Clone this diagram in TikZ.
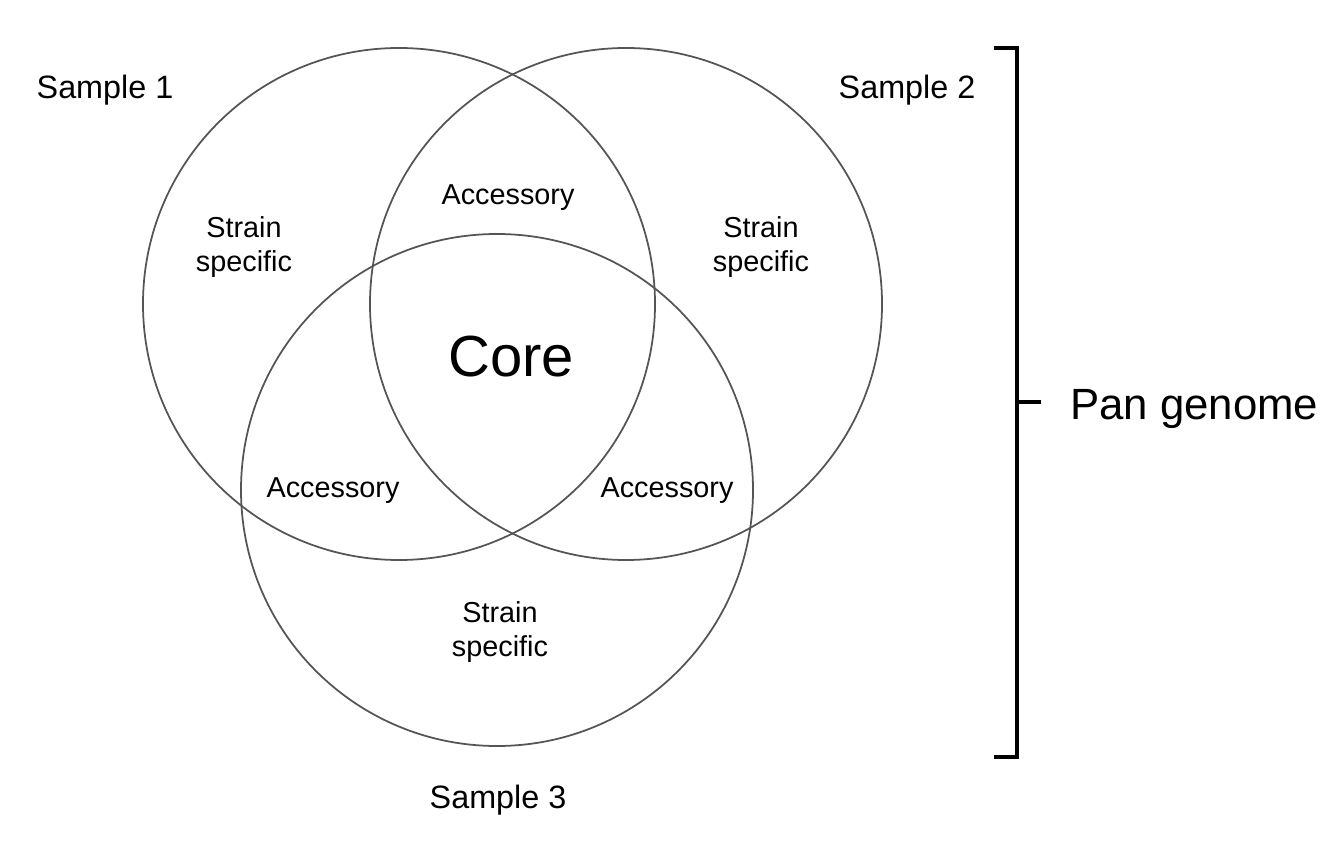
\documentclass[tikz,border=0pt]{standalone}
\usepackage{fontspec}
\setmainfont{Liberation Sans}
\usepackage{tikz}
\usepackage{xcolor}
\usetikzlibrary{positioning, calc}

\definecolor{ringgray}{HTML}{555555}
\tikzset{
  venn/.style={circle, draw=ringgray, line width=1pt, minimum size=10.24cm, inner sep=0pt},
  samplelabel/.style={font=\fontsize{18.4}{21}\selectfont, anchor=base},
  regionlabel/.style={font=\fontsize{16.4}{19.8}\selectfont, align=center},
  bracketline/.style={line width=2.2pt}
}

\begin{document}
\begin{tikzpicture}
\useasboundingbox (0,0) rectangle (26.8,16.94);

% Sets
\node[venn] (set1) at (7.98,10.86) {};
\node[venn] (set2) at (12.52,10.86) {};
\node[venn] (set3) at (9.94,7.14) {};

% Sample names
\node[samplelabel] (name1) at (2.10,14.96) {Sample 1};
\node[samplelabel] (name2) at (18.14,14.96) {Sample 2};
\node[samplelabel] (name3) at (9.96,0.78) {Sample 3};

% Regions
\node[font=\fontsize{33}{39}\selectfont, anchor=base] (core) at (10.22,9.40) {Core};
\node[regionlabel, anchor=base] (acc12) at (10.16,12.84) {Accessory};
\node[regionlabel, anchor=base] (acc13) at (6.66,7.00) {Accessory};
\node[regionlabel, anchor=base] (acc23) at (13.34,7.00) {Accessory};
\node[regionlabel] (only1) at (4.88,12.00) {Strain\\specific};
\node[regionlabel] (only2) at (15.22,12.00) {Strain\\specific};
\node[regionlabel] (only3) at (10.00,4.30) {Strain\\specific};

% Pan genome bracket
\coordinate (btop) at (20.34,15.98);
\coordinate (bbot) at (20.34,1.80);
\coordinate (bmid) at (20.34,8.90);
\draw[bracketline] ($(btop)+(-0.46,0)$) -- (btop) -- (bbot) -- ($(bbot)+(-0.46,0)$);
\draw[bracketline] (bmid) -- ++(0.48,0) coordinate (btip);
\node[font=\fontsize{24.9}{29}\selectfont, anchor=base west] (pan) at (21.28,8.54) {Pan genome};
\end{tikzpicture}
\end{document}
